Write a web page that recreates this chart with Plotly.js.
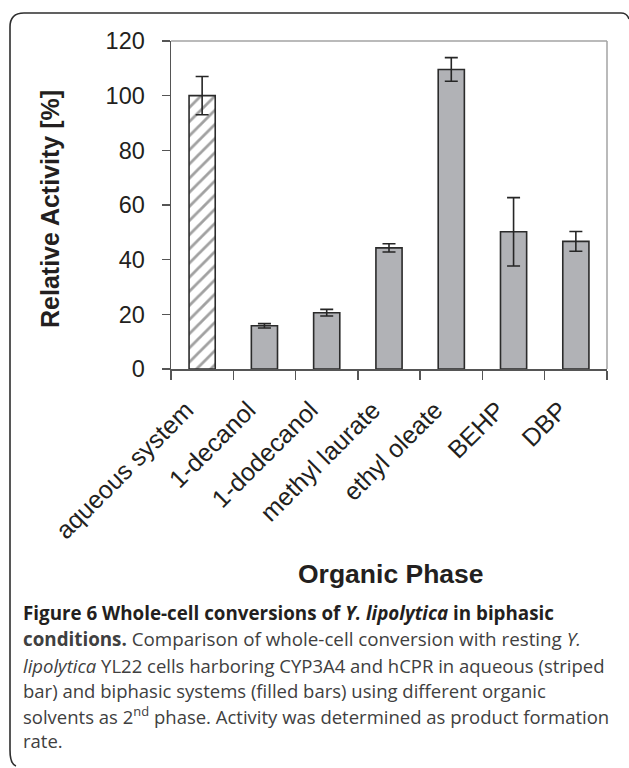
<!DOCTYPE html>
<html>
<head>
<meta charset="utf-8">
<script src="https://cdn.plot.ly/plotly-3.0.1.min.js"></script>
<style>
html,body{margin:0;padding:0;background:#fff;}
#chart{width:629px;height:768px;}
</style>
</head>
<body>
<div id="chart"></div>
<script>
// ---- data ----
const categories = ["aqueous system", "1-decanol", "1-dodecanol", "methyl laurate", "ethyl oleate", "BEHP", "DBP"];
const activity = [100, 15.8, 20.6, 44.3, 109.6, 50.2, 46.7];
const errors = [7, 0.8, 1.2, 1.5, 4.3, 12.5, 3.6];
const yTicks = [0, 20, 40, 60, 80, 100, 120];
const captionLines = [
  "<b>Figure 6 Whole-cell conversions of <i>Y. lipolytica</i> in biphasic</b>",
  "<b>conditions.</b> Comparison of whole-cell conversion with resting <i>Y.</i>",
  "<i>lipolytica</i> YL22 cells harboring CYP3A4 and hCPR in aqueous (striped",
  "bar) and biphasic systems (filled bars) using different organic",
  "solvents as 2<sup>nd</sup> phase. Activity was determined as product formation",
  "rate."
];

// ---- layout geometry (pixels) ----
const W = 629, H = 768;
const L = 171, R = 607, T = 41, B = 369;
const px = x => (x - L) / (R - L);
const py = y => (B - y) / (B - T);

const barColors = categories.map((c, i) => i === 0 ? "#ffffff" : "#b1b2b6");
const patShapes = categories.map((c, i) => i === 0 ? "/" : "");

const trace = {
  type: "bar",
  x: categories,
  y: activity,
  width: 0.42,
  marker: {
    color: barColors,
    line: {color: "#2b2b2b", width: 1.6},
    pattern: {shape: patShapes, fgcolor: "#b8b8b8", size: 10, solidity: 0.28, fillmode: "overlay"}
  },
  error_y: {type: "data", array: errors, visible: true, color: "#262626", thickness: 1.6, width: 6.5},
  hoverinfo: "none"
};

// rounded outer frame path in paper coords
const fx0 = 10, fy0 = 13, fx1 = 627, fy1 = 764, rr = 14;
const framePath =
  "M " + px(fx0) + "," + py(fy1 - rr) +
  " L " + px(fx0) + "," + py(fy0 + rr) +
  " Q " + px(fx0) + "," + py(fy0) + " " + px(fx0 + rr) + "," + py(fy0) +
  " L " + px(fx1 - 6) + "," + py(fy0) +
  " Q " + px(fx1) + "," + py(fy0) + " " + px(fx1 + 2) + "," + py(fy0 + 6) +
  " M " + px(fx0) + "," + py(fy1 - rr) +
  " Q " + px(fx0) + "," + py(fy1) + " " + px(fx0 + 6) + "," + py(fy1 + 2);

const shapes = [
  {type: "path", xref: "paper", yref: "paper", path: framePath, line: {color: "#2e2e2e", width: 1.6}},
  {type: "line", xref: "paper", yref: "paper", x0: 0, x1: 1, y0: 1, y1: 1, line: {color: "#a3a3a3", width: 1.5}},
  {type: "line", xref: "paper", yref: "paper", x0: 1, x1: 1, y0: 0, y1: 1, line: {color: "#a3a3a3", width: 1.5}}
];

const annotations = [
  {xref: "paper", yref: "paper", x: px(50), y: py(209), text: "<b>Relative Activity [%]</b>", showarrow: false,
   textangle: -90, font: {family: "Liberation Sans, Arial, sans-serif", size: 25, color: "#231f20"}, xanchor: "center", yanchor: "middle"},
  {xref: "paper", yref: "paper", x: px(391), y: py(574), text: "<b>Organic Phase</b>", showarrow: false,
   font: {family: "Liberation Sans, Arial, sans-serif", size: 26.5, color: "#231f20"}, xanchor: "center", yanchor: "middle"}
];
const lineY = [613, 639, 665, 690, 715, 741];
captionLines.forEach((t, i) => {
  annotations.push({
    xref: "paper", yref: "paper", x: px(21), y: py(lineY[i]), text: t, showarrow: false,
    xanchor: "left", yanchor: "middle", align: "left",
    font: {family: "Open Sans, Noto Sans, sans-serif", size: i < 2 ? 18.8 : 18.5, color: i === 0 ? "#231f20" : "#404040"}
  });
});

const layout = {
  width: W, height: H,
  margin: {l: L, r: W - R, t: T, b: H - B, pad: 0},
  paper_bgcolor: "#fff", plot_bgcolor: "#fff",
  showlegend: false,
  bargap: 0.58,
  xaxis: {
    type: "category", tickson: "boundaries", ticks: "outside", ticklen: 9, tickwidth: 1.3, tickcolor: "#555",
    showline: true, linecolor: "#555", linewidth: 1.5, showgrid: false, zeroline: false,
    tickangle: -45, tickfont: {family: "Liberation Sans, Arial, sans-serif", size: 25, color: "#231f20"},
    ticklabelstandoff: 15, ticklabelshift: -16,
    fixedrange: true
  },
  yaxis: {
    range: [0, 120], tickvals: yTicks, ticktext: yTicks.map(String), ticks: "outside", ticklen: 8, tickwidth: 1.3, tickcolor: "#555",
    showline: true, linecolor: "#555", linewidth: 1.5, showgrid: false, zeroline: false,
    tickfont: {family: "Liberation Sans, Arial, sans-serif", size: 23.5, color: "#231f20"},
    ticklabelstandoff: 12,
    fixedrange: true
  },
  shapes: shapes,
  annotations: annotations
};

Plotly.newPlot("chart", [trace], layout, {displayModeBar: false, staticPlot: true});
</script>
</body>
</html>
